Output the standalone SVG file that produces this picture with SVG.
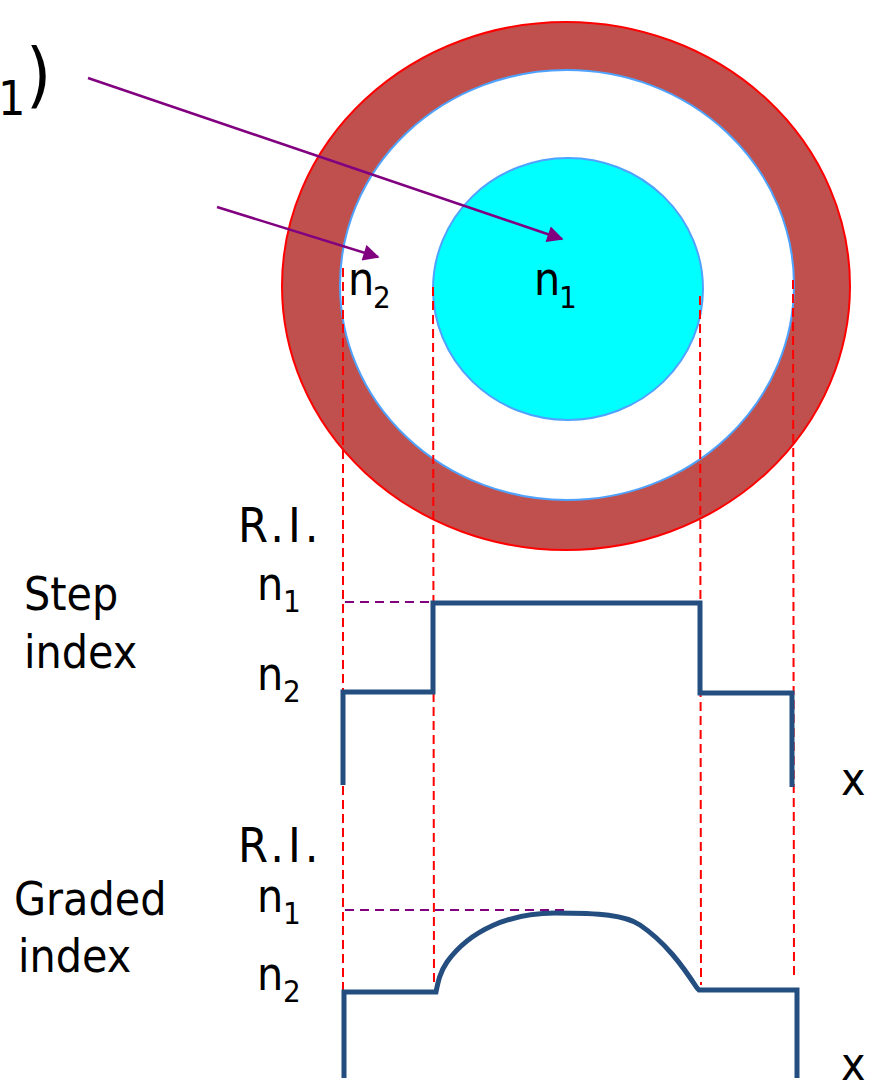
<svg xmlns="http://www.w3.org/2000/svg" width="874" height="1080" viewBox="0 0 874 1080">
<style>
text{font-family:"DejaVu Sans Condensed","DejaVu Sans","Open Sans",sans-serif;font-stretch:condensed;fill:#000}
.lab{font-size:46px}
.sub{font-size:31px}
.ri{font-size:48px;letter-spacing:4px}
.guide{fill:none;stroke:#FF0000;stroke-width:2;stroke-dasharray:9 5}
.ref{fill:none;stroke:#800080;stroke-width:2;stroke-dasharray:9 6}
.curve{fill:none;stroke:#254E80;stroke-width:5;stroke-linejoin:miter}
.ray{fill:none;stroke:#800080;stroke-width:2.5}
</style>
<defs>
<marker id="ah" viewBox="0 0 10 10" refX="9" refY="5" markerWidth="7.5" markerHeight="6.5" orient="auto" markerUnits="strokeWidth">
<path d="M0,0 L10,5 L0,10 z" fill="#800080"/>
</marker>
</defs>
<rect width="874" height="1080" fill="#fff"/>
<g id="fiber">
<ellipse cx="566" cy="286" rx="284" ry="264" fill="#C0504D" stroke="#FF0000" stroke-width="2"/>
<ellipse cx="567" cy="285" rx="227" ry="215" fill="#fff" stroke="#4FA3FF" stroke-width="2"/>
<ellipse cx="568" cy="289" rx="135" ry="131" fill="#00FFFF" stroke="#4FA3FF" stroke-width="2"/>
</g>
<g id="labels">
<text x="-2" y="115" style="font-size:48px">1</text>
<text x="26" y="99" style="font-size:72px">)</text>
<text class="lab" x="348" y="295">n</text><text class="sub" x="373" y="308">2</text>
<text class="lab" x="534" y="295">n</text><text class="sub" x="559" y="308">1</text>
<text class="ri" x="238" y="542">R.I.</text>
<text class="lab" x="24" y="610">Step</text>
<text class="lab" x="24" y="668">index</text>
<text class="lab" x="257" y="600">n</text><text class="sub" x="283" y="612">1</text>
<text class="lab" x="257" y="690">n</text><text class="sub" x="283" y="702">2</text>
<text class="lab" x="841" y="795">x</text>
<text class="ri" x="238" y="862">R.I.</text>
<text class="lab" x="14" y="915">Graded</text>
<text class="lab" x="18" y="972">index</text>
<text class="lab" x="257" y="912">n</text><text class="sub" x="283" y="924">1</text>
<text class="lab" x="257" y="990">n</text><text class="sub" x="283" y="1002">2</text>
<text class="lab" x="841" y="1080">x</text>
</g>
<g id="connectors">
<line class="guide" x1="343" y1="268" x2="343" y2="1075"/>
<line class="guide" x1="433" y1="287" x2="434" y2="985"/>
<line class="guide" x1="700" y1="296" x2="701" y2="985"/>
<line class="guide" x1="793" y1="280" x2="794" y2="975"/>
<line class="ref" x1="345" y1="602" x2="433" y2="602"/>
<line class="ref" x1="345" y1="910" x2="568" y2="910"/>
<path class="curve" d="M343,785 L343,692 L433,692 L433,603 L700,603 L700,693 L792,693 L792,787"/>
<path class="curve" d="M344,1078 L344,992 L436,992 C438,982 440,972 447,962 C470,930 510,913 555,913 C600,913 625,915 640,925 C665,942 682,965 697,988 L699,990 L797,990 L797,1078"/>
<line class="ray" x1="88" y1="78" x2="562" y2="239" marker-end="url(#ah)"/>
<line class="ray" x1="217" y1="207" x2="378" y2="257" marker-end="url(#ah)"/>
</g>
</svg>
